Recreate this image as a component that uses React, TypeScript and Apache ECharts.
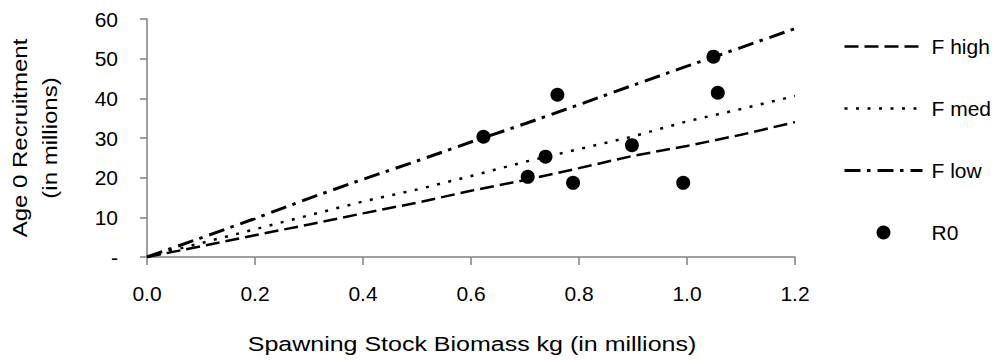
import React, { useEffect, useRef } from "react";
import * as echarts from "echarts";

// ---- data ----
const ssbGrid = [0, 0.1, 0.2, 0.3, 0.4, 0.5, 0.6, 0.7, 0.8, 0.9, 1.0, 1.1, 1.2];
const fHigh = [0, 2.7, 5.5, 8.2, 11, 13.7, 16.7, 19.4, 22.4, 25.5, 28, 30.8, 34];
const fMed = [0, 3.5, 7, 10.5, 14, 17, 20.4, 24, 27.2, 30.4, 34.2, 37.3, 40.6];
const fLow = [0, 4.8, 9.7, 14.8, 19.6, 24.2, 29, 33.6, 38.4, 43.3, 48.1, 52.8, 57.6];
const r0Ssb = [0.623, 0.76, 0.738, 0.705, 0.789, 0.898, 0.993, 1.057, 1.049];
const r0Rec = [30.3, 40.9, 25.3, 20.2, 18.7, 28.2, 18.7, 41.4, 50.5];
const seriesNames = ["F high", "F med", "F low", "R0"];
const xTitle = "Spawning Stock Biomass kg (in millions)";
const yTitleLines = ["Age 0 Recruitment", "(in millions)"];

const FONT = '"Liberation Sans", Arial, sans-serif';

const pairs = (xs: number[], ys: number[]) => xs.map((x, i) => [x, ys[i]]);

export default function App() {
  const ref = useRef<HTMLDivElement>(null);
  useEffect(() => {
    if (!ref.current) return;
    const chart = echarts.init(ref.current, undefined, { renderer: "svg" });
    const axisColor = "#808080";
    const titleText = (text: string, x: number, y: number, rotated: boolean, scale: number) => ({
      type: "text",
      x,
      y,
      rotation: rotated ? Math.PI / 2 : 0,
      scaleX: scale,
      style: {
        text,
        font: `20px ${FONT}`,
        fill: "#000",
        textAlign: "center",
        textVerticalAlign: "middle",
      },
    });
    chart.setOption({
      animation: false,
      backgroundColor: "#ffffff",
      grid: { left: 147, right: 207, top: 19, bottom: 103, containLabel: false },
      xAxis: {
        type: "value",
        min: 0,
        max: 1.2,
        interval: 0.2,
        axisLine: { show: true, onZero: false, lineStyle: { color: axisColor, width: 1.5 } },
        axisTick: { show: true, length: 8, lineStyle: { color: axisColor, width: 1.5 } },
        splitLine: { show: false },
        axisLabel: {
          color: "#000",
          fontFamily: FONT,
          fontSize: 21,
          margin: 26,
          formatter: (v: number) => v.toFixed(1),
        },
      },
      yAxis: {
        type: "value",
        min: 0,
        max: 60,
        interval: 10,
        axisLine: { show: true, lineStyle: { color: axisColor, width: 1.5 } },
        axisTick: { show: true, length: 7, lineStyle: { color: axisColor, width: 1.5 } },
        splitLine: { show: false },
        axisLabel: {
          color: "#000",
          fontFamily: FONT,
          fontSize: 21,
          margin: 29,
          formatter: (v: number) => (v === 0 ? "-" : String(v)),
        },
      },
      legend: {
        orient: "vertical",
        left: 843,
        top: 36,
        padding: 0,
        itemWidth: 78,
        itemHeight: 14,
        itemGap: 41,
        lineStyle: { width: "inherit" },
        textStyle: { color: "#000", fontFamily: FONT, fontSize: 21, lineHeight: 20, padding: [0, 0, 0, 4] },
        data: [
          { name: seriesNames[0], itemStyle: { opacity: 0 } },
          { name: seriesNames[1], itemStyle: { opacity: 0 } },
          { name: seriesNames[2], itemStyle: { opacity: 0 } },
          { name: seriesNames[3] },
        ],
      },
      graphic: [
        titleText(xTitle, 472, 344, false, 1.25),
        titleText(yTitleLines[0], 20, 138, true, 1.2),
        titleText(yTitleLines[1], 50, 138, true, 1.2),
      ],
      series: [
        {
          name: seriesNames[0],
          type: "line",
          symbol: "none",
          data: pairs(ssbGrid, fHigh),
          lineStyle: { color: "#000", width: 2.5, type: [14, 6] },
          itemStyle: { color: "#000" },
        },
        {
          name: seriesNames[1],
          type: "line",
          symbol: "none",
          data: pairs(ssbGrid, fMed),
          lineStyle: { color: "#000", width: 2.5, type: [3, 8.5] },
          itemStyle: { color: "#000" },
        },
        {
          name: seriesNames[2],
          type: "line",
          symbol: "none",
          data: pairs(ssbGrid, fLow),
          lineStyle: { color: "#000", width: 3, type: [16, 6.5, 3.5, 7] },
          itemStyle: { color: "#000" },
        },
        {
          name: seriesNames[3],
          type: "scatter",
          symbol: "circle",
          symbolSize: 14,
          data: pairs(r0Ssb, r0Rec),
          itemStyle: { color: "#000", opacity: 1 },
          z: 5,
        },
      ],
    });
    return () => chart.dispose();
  }, []);
  return (
    <div
      ref={ref}
      style={{ position: "fixed", left: 0, top: 0, width: 1002, height: 360, background: "#fff" }}
    />
  );
}
